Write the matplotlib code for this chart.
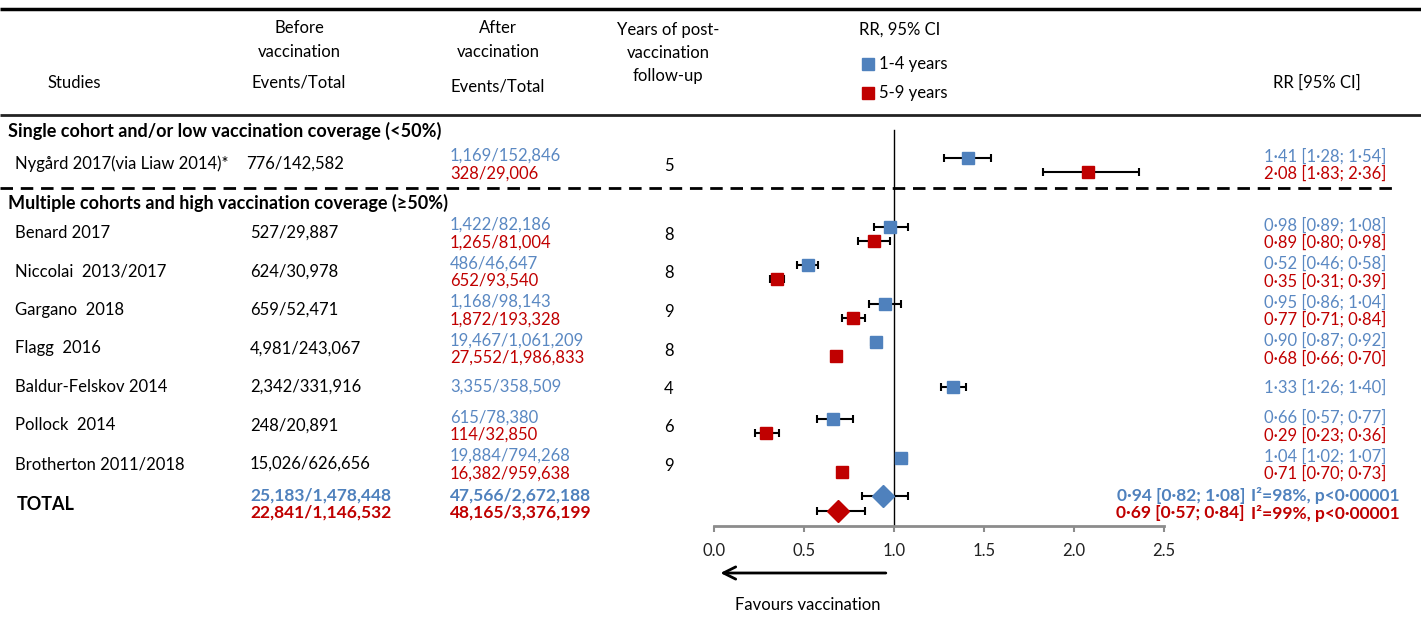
import matplotlib
matplotlib.use('Agg')
import matplotlib.pyplot as plt
import numpy as np

plt.rcParams['font.family'] = ['Lato', 'DejaVu Sans']

# ---------------- data ----------------
studies = ["Nygård 2017(via Liaw 2014)*", "Benard 2017", "Niccolai  2013/2017",
           "Gargano  2018", "Flagg  2016", "Baldur-Felskov 2014", "Pollock  2014",
           "Brotherton 2011/2018"]
before = ["776/142,582", "527/29,887", "624/30,978", "659/52,471", "4,981/243,067",
          "2,342/331,916", "248/20,891", "15,026/626,656"]
after_1_4 = ["1,169/152,846", "1,422/82,186", "486/46,647", "1,168/98,143",
             "19,467/1,061,209", "3,355/358,509", "615/78,380", "19,884/794,268"]
after_5_9 = ["328/29,006", "1,265/81,004", "652/93,540", "1,872/193,328",
             "27,552/1,986,833", None, "114/32,850", "16,382/959,638"]
years = [5, 8, 8, 9, 8, 4, 6, 9]
rr_1_4 = [1.41, 0.98, 0.52, 0.95, 0.90, 1.33, 0.66, 1.04]
lo_1_4 = [1.28, 0.89, 0.46, 0.86, 0.87, 1.26, 0.57, 1.02]
hi_1_4 = [1.54, 1.08, 0.58, 1.04, 0.92, 1.40, 0.77, 1.07]
rr_5_9 = [2.08, 0.89, 0.35, 0.77, 0.68, None, 0.29, 0.71]
lo_5_9 = [1.83, 0.80, 0.31, 0.71, 0.66, None, 0.23, 0.70]
hi_5_9 = [2.36, 0.98, 0.39, 0.84, 0.70, None, 0.36, 0.73]
total_before = ["25,183/1,478,448", "22,841/1,146,532"]
total_after = ["47,566/2,672,188", "48,165/3,376,199"]
total_rr = [0.94, 0.69]
total_lo = [0.82, 0.57]
total_hi = [1.08, 0.84]
total_i2 = [98, 99]
total_p = "p<0·00001"
groups = ["Single cohort and/or low vaccination coverage (<50%)",
          "Multiple cohorts and high vaccination coverage (≥50%)"]
legend_labels = ["1-4 years", "5-9 years"]
ticks = [0.0, 0.5, 1.0, 1.5, 2.0, 2.5]

# ---------------- style ----------------
BLUE = '#4F81BD'
BLUE_T = '#5A88C2'
RED = '#C00000'
FS = 12
FSB = 12.5
W, H = 1421, 621

def fmt(v):
    return f"{v:.2f}".replace('.', '·')

fig = plt.figure(figsize=(W / 100, H / 100), dpi=100)
fig.patch.set_facecolor('white')

# table axes in pixel-like units
tab = fig.add_axes([0, 0, 1, 1])
tab.set_xlim(0, W)
tab.set_ylim(H, 0)
tab.axis('off')

# forest axes: 0..2.5 mapped to the plot region
x0, x1 = 714, 1164
ax = fig.add_axes([x0 / W, 0, (x1 - x0) / W, 1])
ax.set_xlim(0, 2.5)
ax.set_ylim(H, 0)
ax.patch.set_visible(False)
for s in ['left', 'right', 'top']:
    ax.spines[s].set_visible(False)
ax_y = 526
ax.spines['bottom'].set_position(('data', ax_y))
ax.spines['bottom'].set_color('#8C8C8C')
ax.spines['bottom'].set_linewidth(2)
ax.set_yticks([])
ax.set_xticks(ticks)
ax.set_xticklabels([f"{t:.1f}" for t in ticks])
ax.tick_params(axis='x', direction='out', length=4, width=1.5, color='#8C8C8C',
               labelsize=FS, pad=8, labelcolor='#222222')

# ---------------- header ----------------
tab.plot([0, W], [9, 9], color='black', lw=2.5, solid_capstyle='butt')
tab.plot([0, W], [115, 115], color='#222222', lw=2, solid_capstyle='butt')
tab.text(74, 83, "Studies", ha='center', va='center', fontsize=FS)
for xc, lines in [(299, [("Before", 28), ("vaccination", 52), ("Events/Total", 83)]),
                  (498, [("After", 28), ("vaccination", 52), ("Events/Total", 87)]),
                  (668, [("Years of post-", 30), ("vaccination", 53), ("follow-up", 76)])]:
    for t, yy in lines:
        tab.text(xc, yy, t, ha='center', va='center', fontsize=FS)
tab.text(859, 30, "RR, 95% CI", ha='left', va='center', fontsize=FS)
for lab, col, yy in zip(legend_labels, [BLUE, RED], [64, 93]):
    tab.plot([868], [yy], marker='s', ms=8, color=col, mec=col)
    tab.text(879, yy, lab, ha='left', va='center', fontsize=FS)
tab.text(1317, 83, "RR [95% CI]", ha='center', va='center', fontsize=FS)

# ---------------- rows ----------------
row_y = [164] + [233 + 38.5 * k for k in range(len(studies) - 1)]
tab.text(8, 131, groups[0], ha='left', va='center', fontsize=13, fontweight='bold')
tab.text(8, 203, groups[1], ha='left', va='center', fontsize=13, fontweight='bold')
tab.plot([0, 1392], [188, 188], color='black', lw=2, dashes=(4.5, 2.8))

x_name, x_before, x_after, x_years, x_right = 15, 250, 450, 669, 1386
for i, name in enumerate(studies):
    y = row_y[i]
    tab.text(x_name, y, name, ha='left', va='center', fontsize=FS)
    tab.text(x_before - (4 if i == 0 else 0), y, before[i], ha='left', va='center', fontsize=FS)
    tab.text(x_years, y + 2, str(years[i]), ha='center', va='center', fontsize=FS)
    if after_5_9[i] is None:
        yb = y
        tab.text(x_after, yb, after_1_4[i], ha='left', va='center', fontsize=FS, color=BLUE_T)
        tab.text(x_right, yb, f"{fmt(rr_1_4[i])} [{fmt(lo_1_4[i])}; {fmt(hi_1_4[i])}]",
                 ha='right', va='center', fontsize=FS, color=BLUE_T)
        mb = y
    else:
        yb, yr = y - 8, y + 9.5
        tab.text(x_after, yb, after_1_4[i], ha='left', va='center', fontsize=FS, color=BLUE_T)
        tab.text(x_after, yr, after_5_9[i], ha='left', va='center', fontsize=FS, color=RED)
        tab.text(x_right, yb, f"{fmt(rr_1_4[i])} [{fmt(lo_1_4[i])}; {fmt(hi_1_4[i])}]",
                 ha='right', va='center', fontsize=FS, color=BLUE_T)
        tab.text(x_right, yr, f"{fmt(rr_5_9[i])} [{fmt(lo_5_9[i])}; {fmt(hi_5_9[i])}]",
                 ha='right', va='center', fontsize=FS, color=RED)
        mb = y - 6.5
        mr = y + 7.5
        ax.errorbar([rr_5_9[i]], [mr], xerr=[[rr_5_9[i] - lo_5_9[i]], [hi_5_9[i] - rr_5_9[i]]],
                    fmt='none', ecolor='black', elinewidth=1.5, capsize=2.6, capthick=1.5, zorder=2)
        ax.plot([rr_5_9[i]], [mr], marker='s', ms=8.5, color=RED, mec=RED, zorder=3)
    ax.errorbar([rr_1_4[i]], [mb], xerr=[[rr_1_4[i] - lo_1_4[i]], [hi_1_4[i] - rr_1_4[i]]],
                fmt='none', ecolor='black', elinewidth=1.5, capsize=2.6, capthick=1.5, zorder=2)
    ax.plot([rr_1_4[i]], [mb], marker='s', ms=8.5, color=BLUE, mec=BLUE, zorder=3)

# ---------------- total ----------------
ty = 504
tab.text(x_name + 2, ty, "TOTAL", ha='left', va='center', fontsize=13, fontweight='bold')
for k, (col, dy, mdy) in enumerate([(BLUE, -8, -8), (RED, 9, 7)]):
    tab.text(x_before, ty + dy, total_before[k], ha='left', va='center', fontsize=FSB,
             fontweight='bold', color=col)
    tab.text(x_after, ty + dy, total_after[k], ha='left', va='center', fontsize=FSB,
             fontweight='bold', color=col)
    tab.text(1245, ty + dy, f"{fmt(total_rr[k])} [{fmt(total_lo[k])}; {fmt(total_hi[k])}]",
             ha='right', va='center', fontsize=FSB, fontweight='bold', color=col)
    tab.text(1251, ty + dy, f"I²={total_i2[k]}%, {total_p}", ha='left', va='center',
             fontsize=FSB, fontweight='bold', color=col)
    ax.errorbar([total_rr[k]], [ty + mdy], xerr=[[total_rr[k] - total_lo[k]], [total_hi[k] - total_rr[k]]],
                fmt='none', ecolor='black', elinewidth=1.5, capsize=2.6, capthick=1.5, zorder=2)
    ax.plot([total_rr[k]], [ty + mdy], marker='D', ms=11.5, color=col, mec=col, zorder=3)

# reference line at RR = 1
ax.plot([1.0, 1.0], [130, ax_y], color='black', lw=1, zorder=1)

# arrow and caption
ax.annotate('', xy=(0.02, 573), xytext=(0.97, 573),
            arrowprops=dict(arrowstyle='->', lw=2, color='black', mutation_scale=22),
            annotation_clip=False)
ax.text(0.52, 605, "Favours vaccination", ha='center', va='center', fontsize=FS)

fig.savefig('out.png', dpi=100, facecolor='white')
